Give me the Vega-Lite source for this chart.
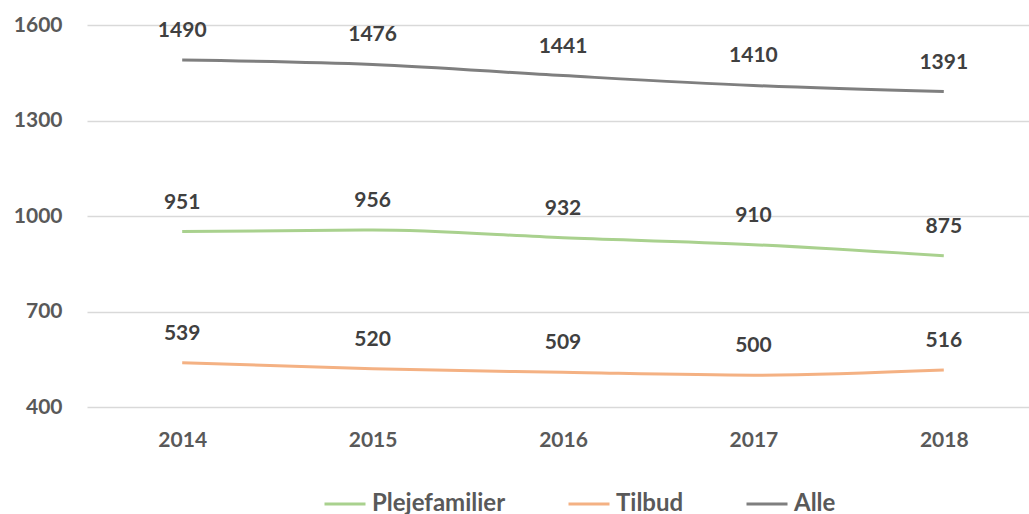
{
  "$schema": "https://vega.github.io/schema/vega-lite/v6.json",
  "width": 952,
  "height": 382,
  "autosize": {"type": "none"},
  "padding": {"left": 87, "top": 25, "right": 0, "bottom": 107},
  "background": "white",
  "config": {
    "view": {"stroke": null},
    "font": "Lato",
    "axis": {"labelFont": "Lato", "labelFontWeight": "bold", "labelFontSize": 21, "labelColor": "#595959"}
  },
  "data": {
    "values": [
      {"year": "2014", "serie": "Plejefamilier", "value": 951},
      {"year": "2015", "serie": "Plejefamilier", "value": 956},
      {"year": "2016", "serie": "Plejefamilier", "value": 932},
      {"year": "2017", "serie": "Plejefamilier", "value": 910},
      {"year": "2018", "serie": "Plejefamilier", "value": 875},
      {"year": "2014", "serie": "Tilbud", "value": 539},
      {"year": "2015", "serie": "Tilbud", "value": 520},
      {"year": "2016", "serie": "Tilbud", "value": 509},
      {"year": "2017", "serie": "Tilbud", "value": 500},
      {"year": "2018", "serie": "Tilbud", "value": 516},
      {"year": "2014", "serie": "Alle", "value": 1490},
      {"year": "2015", "serie": "Alle", "value": 1476},
      {"year": "2016", "serie": "Alle", "value": 1441},
      {"year": "2017", "serie": "Alle", "value": 1410},
      {"year": "2018", "serie": "Alle", "value": 1391}
    ]
  },
  "encoding": {
    "x": {
      "field": "year", "type": "ordinal", "title": null,
      "scale": {"paddingInner": 0, "paddingOuter": 0.5},
      "axis": {"labelAngle": 0, "domain": false, "ticks": false, "labelPadding": 22, "grid": false}
    },
    "y": {
      "field": "value", "type": "quantitative", "title": null,
      "scale": {"domain": [400, 1600], "nice": false, "zero": false},
      "axis": {"values": [400, 700, 1000, 1300, 1600], "format": "d", "domain": false, "ticks": false, "labelPadding": 25, "gridColor": "#D9D9D9", "gridWidth": 1.3}
    },
    "color": {
      "field": "serie", "type": "nominal", "title": null,
      "scale": {"domain": ["Plejefamilier", "Tilbud", "Alle"], "range": ["#A9D18E", "#F4B183", "#7F7F7F"]},
      "legend": {
        "orient": "none", "legendX": 236, "legendY": 457, "direction": "horizontal",
        "symbolType": "stroke", "symbolSize": 1681, "symbolStrokeWidth": 3,
        "labelFont": "Lato", "labelFontWeight": "bold", "labelFontSize": 24, "labelColor": "#595959",
        "labelOffset": 5, "columnPadding": 56, "symbolOffset": 0
      }
    }
  },
  "layer": [
    {"mark": {"type": "line", "strokeWidth": 3, "interpolate": "monotone"}},
    {
      "mark": {"type": "text", "dy": -29, "baseline": "middle", "font": "Lato", "fontWeight": "bold", "fontSize": 21, "color": "#404040"},
      "encoding": {"text": {"field": "value", "type": "quantitative"}, "color": {"value": "#404040"}}
    }
  ]
}
